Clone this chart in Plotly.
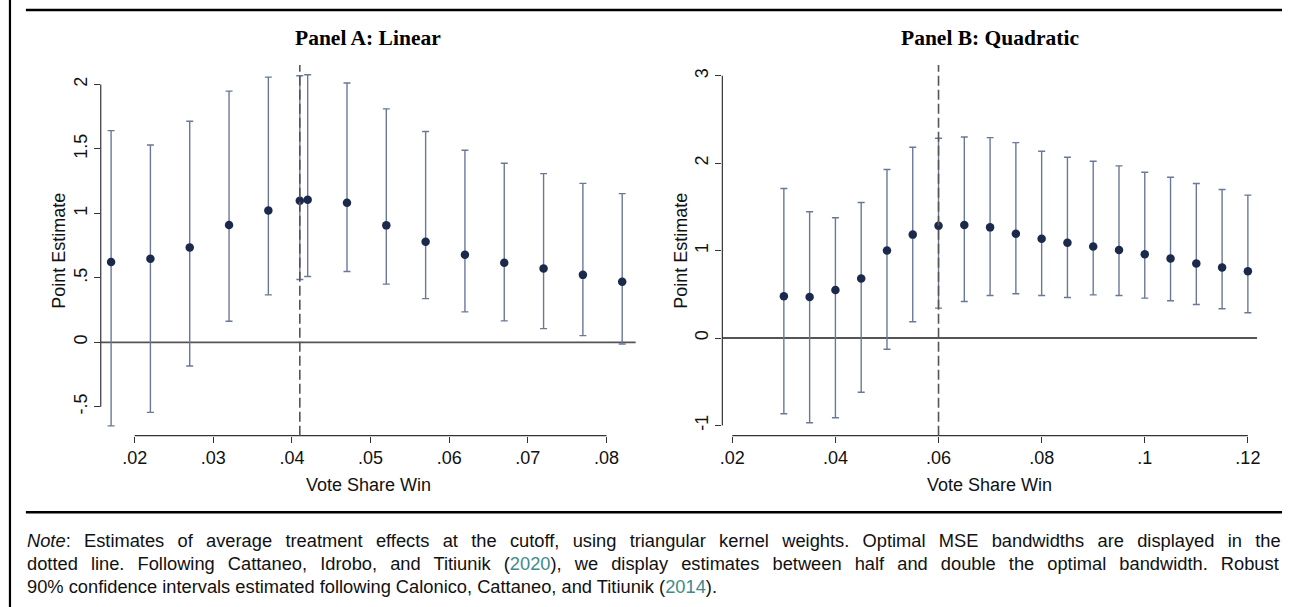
import plotly.graph_objects as go

W, H = 1294, 607

# ---------------- data ----------------
a_x = [0.017, 0.022, 0.027, 0.032, 0.037, 0.041, 0.042, 0.047, 0.052, 0.057, 0.062, 0.067, 0.072, 0.077, 0.082]
a_est = [0.622, 0.648, 0.736, 0.909, 1.023, 1.098, 1.106, 1.083, 0.907, 0.780, 0.679, 0.617, 0.573, 0.523, 0.469]
a_hi = [1.642, 1.531, 1.715, 1.948, 2.057, 2.068, 2.075, 2.011, 1.811, 1.635, 1.490, 1.389, 1.308, 1.233, 1.153]
a_lo = [-0.648, -0.544, -0.184, 0.163, 0.368, 0.487, 0.510, 0.549, 0.451, 0.339, 0.236, 0.166, 0.106, 0.052, -0.013]
a_opt = 0.041

b_x = [0.030, 0.035, 0.040, 0.045, 0.050, 0.055, 0.060, 0.065, 0.070, 0.075,
       0.080, 0.085, 0.090, 0.095, 0.100, 0.105, 0.110, 0.115, 0.120]
b_est = [0.479, 0.468, 0.548, 0.681, 1.000, 1.183, 1.285, 1.293, 1.266, 1.194,
         1.137, 1.091, 1.046, 1.008, 0.958, 0.909, 0.852, 0.806, 0.764]
b_hi = [1.711, 1.445, 1.376, 1.551, 1.928, 2.183, 2.285, 2.300, 2.293, 2.236,
        2.137, 2.068, 2.023, 1.970, 1.897, 1.840, 1.768, 1.700, 1.635]
b_lo = [-0.867, -0.970, -0.913, -0.620, -0.129, 0.186, 0.342, 0.418, 0.487, 0.506,
        0.487, 0.464, 0.494, 0.487, 0.456, 0.426, 0.384, 0.335, 0.289]
b_opt = 0.060

a_xticks = [0.02, 0.03, 0.04, 0.05, 0.06, 0.07, 0.08]
a_xlabels = [".02", ".03", ".04", ".05", ".06", ".07", ".08"]
a_yticks = [-0.5, 0, 0.5, 1, 1.5, 2]
a_ylabels = ["-.5", "0", ".5", "1", "1.5", "2"]
b_xticks = [0.02, 0.04, 0.06, 0.08, 0.10, 0.12]
b_xlabels = [".02", ".04", ".06", ".08", ".1", ".12"]
b_yticks = [-1, 0, 1, 2, 3]
b_ylabels = ["-1", "0", "1", "2", "3"]

titles = ["Panel A: Linear", "Panel B: Quadratic"]
x_title = "Vote Share Win"
y_title = "Point Estimate"
YEAR = "<span style='fill:#3f8a8c'>{}</span>"
note_lines = [
    "<i>Note</i>: Estimates of average treatment effects at the cutoff, using triangular kernel weights. "
    "Optimal MSE bandwidths are displayed in the",
    "dotted line. Following Cattaneo, Idrobo, and Titiunik (" + YEAR.format("2020") + "), "
    "we display estimates between half and double the optimal bandwidth. Robust",
    "90% confidence intervals estimated following Calonico, Cattaneo, and Titiunik ("
    + YEAR.format("2014") + ").",
]
note_y = [540, 563, 586]
note_wordspace = [8.2, 8.0, 0.0]

# ---------------- style ----------------
SANS = "Liberation Sans, Arial, Helvetica, sans-serif"
SERIF = "Liberation Serif, Times New Roman, serif"
NAVY = "#1b2a4c"
CI = "#6a7897"
AX = "#333333"

px_a = (98.2, 635.6)
px_b = (722.7, 1259.9)
py = (65, 435.7)  # top, bottom
ydom = [1 - py[1] / H, 1 - py[0] / H]

fig = go.Figure()


def add_panel(xs, est, hi, lo, xa, ya):
    fig.add_trace(go.Scatter(
        x=xs, y=est, mode="markers",
        marker=dict(color=NAVY, size=8.5, line=dict(width=0)),
        error_y=dict(type="data", symmetric=False,
                     array=[h - e for h, e in zip(hi, est)],
                     arrayminus=[e - l for e, l in zip(est, lo)],
                     color=CI, thickness=1.4, width=3.5),
        xaxis=xa, yaxis=ya, showlegend=False, hoverinfo="skip"))


add_panel(a_x, a_est, a_hi, a_lo, "x", "y")
add_panel(b_x, b_est, b_hi, b_lo, "x2", "y2")


def axis_common():
    return dict(showgrid=False, zeroline=False, showline=False, ticks="outside",
                ticklen=6, tickwidth=1, tickcolor=AX,
                tickfont=dict(family=SANS, size=18, color="#111111"))


a_xr = [0.015684, 0.08371]
a_yr = [-0.7246, 2.151]
b_xr = [0.01807, 0.12178]
b_yr = [-1.118, 3.124]

fig.update_layout(
    width=W, height=H,
    margin=dict(l=0, r=0, t=0, b=0),
    paper_bgcolor="white", plot_bgcolor="white",
    xaxis=dict(domain=[px_a[0] / W, px_a[1] / W], range=a_xr, anchor="y",
               tickvals=a_xticks, ticktext=a_xlabels, **axis_common()),
    yaxis=dict(domain=ydom, range=a_yr, anchor="x",
               tickvals=a_yticks, ticktext=a_ylabels, tickangle=-90, **axis_common()),
    xaxis2=dict(domain=[px_b[0] / W, px_b[1] / W], range=b_xr, anchor="y2",
                tickvals=b_xticks, ticktext=b_xlabels, **axis_common()),
    yaxis2=dict(domain=ydom, range=b_yr, anchor="x2",
                tickvals=b_yticks, ticktext=b_ylabels, tickangle=-90, **axis_common()),
)

shapes = []
for xa, ya, xt, yt, opt in [("x", "y", a_xticks, a_yticks, a_opt),
                            ("x2", "y2", b_xticks, b_yticks, b_opt)]:
    shapes.append(dict(type="line", xref=xa, yref=ya + " domain", x0=xt[0], x1=xt[-1], y0=0, y1=0,
                       line=dict(color=AX, width=1.2)))
    shapes.append(dict(type="line", xref=xa + " domain", yref=ya, x0=0, x1=0, y0=yt[0], y1=yt[-1],
                       line=dict(color=AX, width=1.2)))
    shapes.append(dict(type="line", xref=xa + " domain", yref=ya, x0=0, x1=1, y0=0, y1=0,
                       line=dict(color="#555555", width=1.8), layer="below"))
    shapes.append(dict(type="line", xref=xa, yref=ya + " domain", x0=opt, x1=opt, y0=0, y1=1,
                       line=dict(color="#555555", width=1.6, dash="10px,4px")))

shapes.append(dict(type="line", xref="paper", yref="paper", x0=23 / W, x1=1285 / W,
                   y0=1 - 10 / H, y1=1 - 10 / H, line=dict(color="black", width=2.5)))
shapes.append(dict(type="line", xref="paper", yref="paper", x0=7 / W, x1=7 / W,
                   y0=0, y1=1, line=dict(color="black", width=2.2)))
shapes.append(dict(type="line", xref="paper", yref="paper", x0=23 / W, x1=1285 / W,
                   y0=1 - 512.3 / H, y1=1 - 512.3 / H, line=dict(color="black", width=2.5)))
fig.update_layout(shapes=shapes)

ann = []
for (x0, x1), t in zip([px_a, px_b], titles):
    cx = (x0 + x1) / 2 / W
    ann.append(dict(text="<b>" + t + "</b>", x=cx, y=1 - 38 / H, xref="paper", yref="paper",
                    showarrow=False, xanchor="center", yanchor="middle",
                    font=dict(family=SERIF, size=21.5, color="black")))
    ann.append(dict(text=x_title, x=cx, y=1 - 485 / H, xref="paper", yref="paper",
                    showarrow=False, xanchor="center", yanchor="middle",
                    font=dict(family=SANS, size=18, color="#111111")))
for xp in [56.0, 681.0]:
    ann.append(dict(text=y_title, x=xp / W, y=1 - 251 / H, xref="paper", yref="paper",
                    showarrow=False, xanchor="center", yanchor="middle", textangle=-90,
                    font=dict(family=SANS, size=18, color="#111111")))
for line, yy, ws in zip(note_lines, note_y, note_wordspace):
    txt = "<span style='word-spacing:%.1fpx'>%s</span>" % (ws, line)
    ann.append(dict(text=txt, x=22 / W, y=1 - yy / H, xref="paper", yref="paper",
                    showarrow=False, xanchor="left", yanchor="middle", align="left",
                    font=dict(family=SANS, size=18.3, color="#111111")))
fig.update_layout(annotations=ann)

fig.write_html("out.html", config={"displayModeBar": False},
               post_script="document.body.style.margin='0px';document.body.style.overflow='hidden';")
